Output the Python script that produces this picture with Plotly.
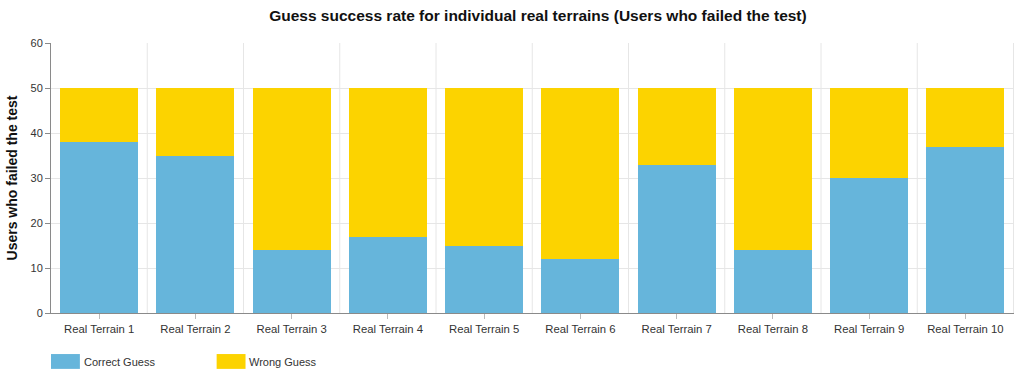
import plotly.graph_objects as go

categories = [f"Real Terrain {i}" for i in range(1, 11)]
correct_guess = [38, 35, 14, 17, 15, 12, 33, 14, 30, 37]
wrong_guess = [12, 15, 36, 33, 35, 38, 17, 36, 20, 13]
y_ticks = [0, 10, 20, 30, 40, 50, 60]

BLUE = "#66B5DB"
YELLOW = "#FCD300"
FONT = "Liberation Sans"

fig = go.Figure()
fig.add_trace(go.Bar(name="Correct Guess", x=categories, y=correct_guess,
                     marker=dict(color=BLUE, line=dict(width=0))))
fig.add_trace(go.Bar(name="Wrong Guess", x=categories, y=wrong_guess,
                     marker=dict(color=YELLOW, line=dict(width=0))))

# vertical grid lines on category boundaries
shapes = []
for i in range(len(categories)):
    shapes.append(dict(type="line", xref="x", yref="paper", x0=i + 0.5, x1=i + 0.5,
                       y0=0, y1=1, line=dict(color="#e6e6e6", width=1), layer="below"))

# legend drawn as colour swatches with labels under the plot
legend_items = [("Correct Guess", BLUE, 0.0), ("Wrong Guess", YELLOW, 0.172)]
annotations = []
for label, color, x0 in legend_items:
    shapes.append(dict(type="rect", xref="paper", yref="paper",
                       x0=x0, x1=x0 + 0.030, y0=-0.152, y1=-0.207,
                       fillcolor=color, line=dict(width=0)))
    annotations.append(dict(xref="paper", yref="paper", x=x0 + 0.034, y=-0.181,
                            text=label, showarrow=False, xanchor="left", yanchor="middle",
                            xshift=-2, font=dict(family=FONT, size=11, color="#333333")))

fig.update_layout(
    barmode="stack",
    bargap=0.19,
    width=1015, height=371,
    margin=dict(l=51, r=1, t=43, b=58),
    paper_bgcolor="white", plot_bgcolor="white",
    showlegend=False,
    title=dict(text="<b>Guess success rate for individual real terrains (Users who failed the test)</b>",
               x=0.53, xanchor="center", y=0.958, yanchor="middle",
               font=dict(family=FONT, size=15.5, color="#111111")),
    font=dict(family=FONT, size=11, color="#333333"),
    shapes=shapes,
    annotations=annotations,
)
fig.update_xaxes(
    showgrid=False, showline=True, linecolor="#8a8a8a", linewidth=1,
    ticks="outside", ticklen=5, tickcolor="#bbbbbb",
    tickfont=dict(family=FONT, size=11.3, color="#333333"),
)
fig.update_yaxes(
    range=[0, 60], tickvals=y_ticks,
    showgrid=True, gridcolor="#e6e6e6", gridwidth=1,
    showline=True, linecolor="#8a8a8a", linewidth=1,
    ticks="outside", ticklen=5, tickcolor="#8a8a8a",
    zeroline=False,
    tickfont=dict(family=FONT, size=11, color="#333333"),
    title=dict(text="<b>Users who failed the test</b>", standoff=9,
               font=dict(family=FONT, size=14, color="#111111")),
)

fig.write_html("out.html")
